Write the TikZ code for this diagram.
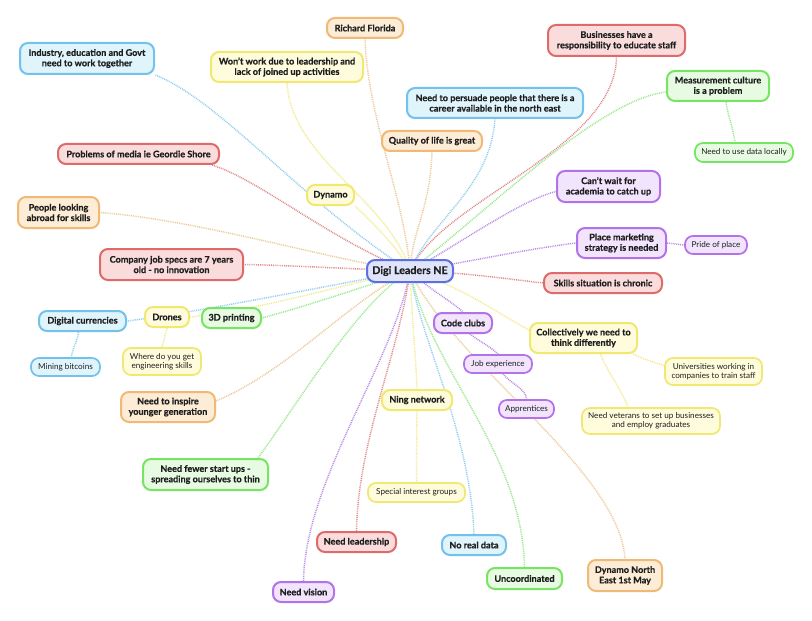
\documentclass[tikz,border=0pt]{standalone}
\usepackage{fontspec}
\setmainfont{Lato}[BoldFeatures={FakeBold=0.5}]
\usetikzlibrary{calc}
\pgfdeclarelayer{bg}
\pgfsetlayers{bg,main}
\definecolor{txt}{HTML}{1E1E1E}
\definecolor{bB}{HTML}{72C2EC}\definecolor{bF}{HTML}{E0F4FC}\definecolor{bL}{HTML}{8FCDF0}
\definecolor{oB}{HTML}{F0BA76}\definecolor{oF}{HTML}{FDECD6}\definecolor{oL}{HTML}{EEC898}
\definecolor{yB}{HTML}{F0E870}\definecolor{yF}{HTML}{FEFCDC}\definecolor{yL}{HTML}{F2EA8C}
\definecolor{rB}{HTML}{DE6A6A}\definecolor{rF}{HTML}{FBDCDC}\definecolor{rL}{HTML}{DF8888}
\definecolor{gB}{HTML}{78E464}\definecolor{gF}{HTML}{E7FBE2}\definecolor{gL}{HTML}{96E888}
\definecolor{pB}{HTML}{B272EA}\definecolor{pF}{HTML}{F3E4FD}\definecolor{pL}{HTML}{B98AE6}
\definecolor{cB}{HTML}{5C6FE3}\definecolor{cF}{HTML}{DFE4FB}
\begin{document}
\begin{tikzpicture}[x=0.75pt,y=-0.75pt,
  box/.style={rounded corners=6pt, line width=1.5pt, inner sep=0pt, align=center, text=txt},
  mainf/.style={box, font=\bfseries\fontsize{6.8}{7.8}\selectfont},
  subf/.style={box, line width=1.3pt, font=\fontsize{6.1}{6.6}\selectfont},
  sz/.style 2 args={minimum width=#1*0.75pt, minimum height=#2*0.75pt},
  nb/.style={draw=bB, fill=bF}, no/.style={draw=oB, fill=oF}, ny/.style={draw=yB, fill=yF},
  nr/.style={draw=rB, fill=rF}, ng/.style={draw=gB, fill=gF}, np/.style={draw=pB, fill=pF},
  lk/.style={line width=1.1pt, dash pattern=on 0.7pt off 0.7pt},
  lb/.style={lk, draw=bL}, lo/.style={lk, draw=oL}, ly/.style={lk, draw=yL},
  lr/.style={lk, draw=rL}, lg/.style={lk, draw=gL}, lp/.style={lk, draw=pL}]
\useasboundingbox (0,0) rectangle (812,620);
\begin{pgfonlayer}{bg}
\fill[white] (0,0) rectangle (812,620);
\end{pgfonlayer}

% central
\node[mainf, draw=cB, fill=cF, sz={86}{22}, font=\bfseries\fontsize{8}{9}\selectfont] (cen) at (410,271) {Digi Leaders NE};

% main nodes
\node[mainf, no, sz={76}{20}] (rf) at (365,28) {Richard Florida};
\node[mainf, nb, sz={134}{31}] (ind) at (87,58.5) {Industry, education and Govt\\need to work together};
\node[mainf, ny, sz={152}{30}] (won) at (287,67) {Won't work due to leadership and\\lack of joined up activities};
\node[mainf, nr, sz={137}{31}] (bus) at (616.5,40.5) {Businesses have a\\responsibility to educate staff};
\node[mainf, ng, sz={102}{30}] (meas) at (718,86) {Measurement culture\\is a problem};
\node[mainf, nb, sz={176}{30}] (pers) at (495,103) {Need to persuade people that there is a\\career available in the north east};
\node[mainf, no, sz={100}{20}] (qual) at (432,141) {Quality of life is great};
\node[mainf, nr, sz={161}{20}] (prob) at (138.5,154) {Problems of media ie Geordie Shore};
\node[mainf, ny, sz={47}{20}] (dyn) at (330.5,195) {Dynamo};
\node[mainf, np, sz={103}{31}] (cant) at (608.5,186.5) {Can't wait for\\academia to catch up};
\node[mainf, no, sz={81}{31}] (ppl) at (58.5,212.5) {People looking\\abroad for skills};
\node[mainf, nr, sz={143}{31}] (comp) at (171.5,264.5) {Company job specs are 7 years\\old - no innovation};
\node[mainf, np, sz={89}{30}] (place) at (621.5,243) {Place marketing\\strategy is needed};
\node[mainf, nr, sz={118}{20}] (skill) at (603,283) {Skills situation is chronic};
\node[mainf, nb, sz={87}{20}] (dc) at (82.5,321) {Digital currencies};
\node[mainf, ny, sz={44}{20}] (dro) at (167,317) {Drones};
\node[mainf, ng, sz={59}{20}] (tdp) at (231.5,318) {3D printing};
\node[mainf, no, sz={94}{30}] (insp) at (168,407) {Need to inspire\\younger generation};
\node[mainf, np, sz={58}{20}] (code) at (463,323) {Code clubs};
\node[mainf, ny, sz={107}{30}] (coll) at (583.5,338) {Collectively we need to\\think differently};
\node[mainf, ny, sz={70}{20}] (ning) at (417,400) {Ning network};
\node[mainf, ng, sz={125}{31}] (few) at (205.5,474.5) {Need fewer start ups -\\spreading ourselves to thin};
\node[mainf, nr, sz={79}{20}] (lead) at (356.5,542) {Need leadership};
\node[mainf, nb, sz={64}{20}] (nrd) at (474,545) {No real data};
\node[mainf, ng, sz={75}{21}] (unc) at (524.5,578.5) {Uncoordinated};
\node[mainf, no, sz={74}{31}] (dne) at (625,575.5) {Dynamo North\\East 1st May};
\node[mainf, np, sz={61}{20}] (vis) at (303.5,592) {Need vision};

% child nodes
\node[subf, ng, sz={98}{19}] (dat) at (744,152.5) {Need to use data locally};
\node[subf, np, sz={62}{18}] (pride) at (716,245) {Pride of place};
\node[subf, nb, sz={69}{18}] (mine) at (65.5,367) {Mining bitcoins};
\node[subf, ny, sz={78}{27}] (where) at (162,361.5) {Where do you get\\engineering skills};
\node[subf, np, sz={68}{18}] (je) at (498,364) {Job experience};
\node[subf, ny, sz={97}{27}] (univ) at (713.5,371.5) {Universities working in\\companies to train staff};
\node[subf, np, sz={55}{18}] (appr) at (526.5,409) {Apprentices};
\node[subf, ny, sz={138}{26}] (vet) at (651,421) {Need veterans to set up businesses\\and employ graduates};
\node[subf, ny, sz={97}{19}] (sig) at (416.5,492.5) {Special interest groups};

\begin{pgfonlayer}{bg}
\draw[lb] (cen.center) .. controls (300,200) and (220,100) .. (ind.south east);
\draw[lo] (cen.center) .. controls (405,200) and (368,120) .. (rf.south);
\draw[ly] (cen.center) .. controls (390,200) and (292,160) .. (won.south);
\draw[lr] (cen.center) .. controls (440,200) and (615,150) .. (bus.south);
\draw[lg] (cen.center) .. controls (500,200) and (600,100) .. ($(meas.west)+(0,6)$);
\draw[lg] ($(meas.south)+(8,0)$) .. controls +(2,15) and +(-2,-15) .. ($(dat.north)+(-9,0)$);
\draw[lb] (cen.center) .. controls (430,220) and (490,190) .. (pers.south);
\draw[lo] (cen.center) .. controls (412,230) and (430,210) .. (qual.south);
\draw[lr] (cen.center) .. controls (330,240) and (260,180) .. ($(prob.south east)+(-8,0)$);
\draw[ly] (cen.center) .. controls (400,250) and (375,225) .. (dyn.south east);
\draw[lp] (cen.center) .. controls (450,250) and (520,200) .. ($(cant.west)+(0,5)$);
\draw[lo] (cen.center) .. controls (330,260) and (200,220) .. (ppl.east);
\draw[lr] (cen.center) .. controls (330,268) and (280,265) .. (comp.east);
\draw[lp] (cen.center) .. controls (470,262) and (520,250) .. (place.west);
\draw[lp] (place.east) -- (pride.west);
\draw[lr] (cen.center) .. controls (460,272) and (500,278) .. (skill.west);
\draw[lb] (cen.center) .. controls (330,285) and (200,312) .. (dc.east);
\draw[ly] (cen.center) .. controls (340,285) and (260,310) .. (dro.east);
\draw[lg] (cen.center) .. controls (370,285) and (310,305) .. (tdp.east);
\draw[lb] ($(dc.south)+(-4,0)$) .. controls +(-1,10) and +(1,-10) .. ($(mine.north)+(6,0)$);
\draw[ly] (dro.south) -- (where.north);
\draw[lo] (cen.center) .. controls (350,300) and (290,370) .. ($(insp.east)+(0,-6)$);
\draw[lg] (cen.center) .. controls (360,300) and (300,400) .. ($(few.north east)+(-11,0)$);
\draw[lp] (cen.center) .. controls (395,360) and (305,480) .. (vis.north);
\draw[lr] (cen.center) .. controls (400,350) and (358,440) .. (lead.north);
\draw[ly] (cen.center) .. controls (412,320) and (416,360) .. (ning.north);
\draw[ly] (ning.south) -- (sig.north);
\draw[lb] (cen.center) .. controls (420,340) and (470,430) .. (nrd.north);
\draw[lg] (cen.center) .. controls (430,370) and (522,450) .. (unc.north);
\draw[lo] (cen.center) .. controls (450,360) and (620,470) .. (dne.north);
\draw[lp] (cen.center) .. controls (430,290) and (450,300) .. (code.north);
\draw[lp] ($(code.south)+(7,0)$) .. controls +(10,8) and +(-8,-8) .. (je.north);
\draw[lp] ($(je.south)+(5,0)$) .. controls +(8,10) and +(0,-10) .. (appr.north);
\draw[ly] (cen.center) .. controls (460,285) and (500,315) .. ($(coll.west)+(0,-8)$);
\draw[ly] ($(coll.south east)+(-5,0)$) .. controls +(10,5) and +(-10,-3) .. ($(univ.west)+(0,-6)$);
\draw[ly] ($(coll.south)+(17,0)$) .. controls +(5,15) and +(-5,-15) .. ($(vet.north)+(-23,0)$);
\end{pgfonlayer}
\end{tikzpicture}
\end{document}
